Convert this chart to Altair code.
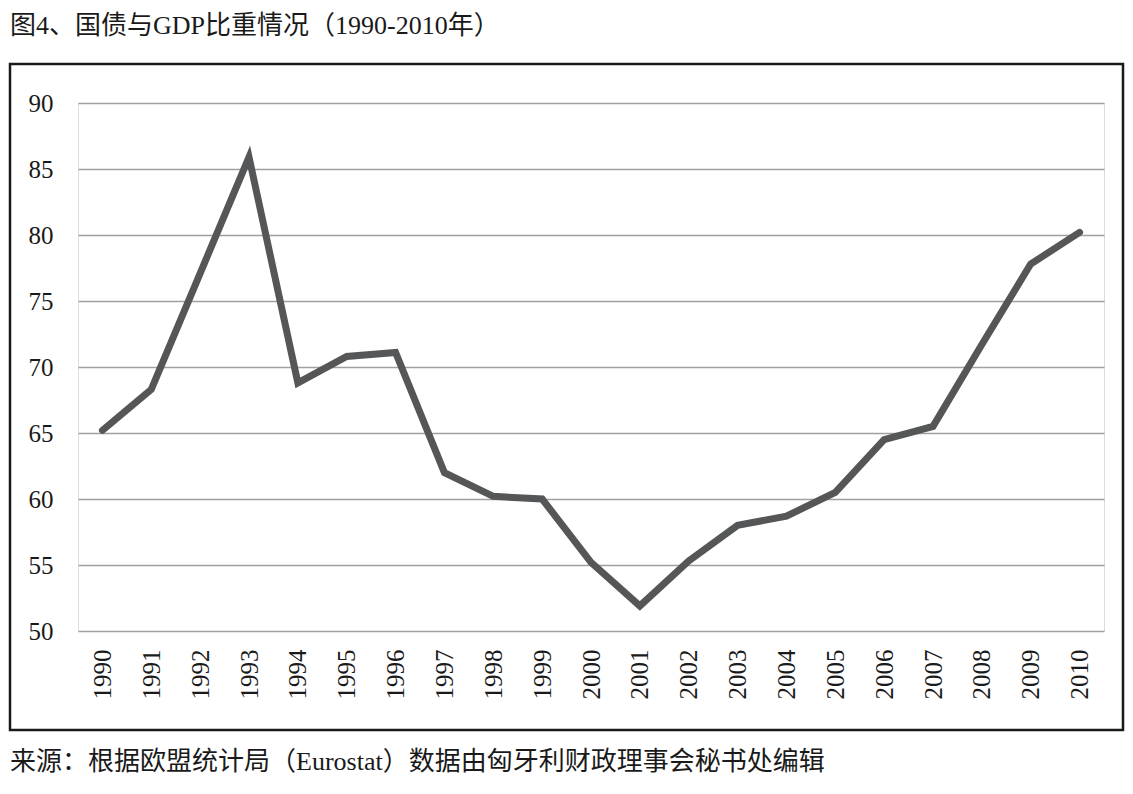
import altair as alt
import pandas as pd

years = [str(y) for y in range(1990, 2011)]
debt = [65.2, 68.3, 77.1, 85.9, 68.8, 70.8, 71.1, 62.0, 60.2, 60.0, 55.2,
        51.9, 55.3, 58.0, 58.7, 60.5, 64.5, 65.5, 71.7, 77.8, 80.2]
y_ticks = [50, 55, 60, 65, 70, 75, 80, 85, 90]
title_text = "图4、国债与GDP比重情况（1990-2010年）"
source_text = "来源：根据欧盟统计局（Eurostat）数据由匈牙利财政理事会秘书处编辑"

df = pd.DataFrame({"year": years, "debt": debt})

FONT = "Liberation Serif, Noto Sans CJK SC"
W, H = 1026, 528

line = alt.Chart(df).mark_line(color="#555657", strokeWidth=7, strokeCap="round").encode(
    x=alt.X("year:O", sort=years, title=None,
            scale=alt.Scale(type="point", padding=0.5),
            axis=alt.Axis(labelAngle=-90, labelFontSize=25, labelFont=FONT, labelColor="#1a1a1a",
                          labelPadding=18, ticks=False, domain=False, grid=False)),
    y=alt.Y("debt:Q", title=None,
            scale=alt.Scale(domain=[50, 90], nice=False, zero=False),
            axis=alt.Axis(values=y_ticks, labelFontSize=25, labelFont=FONT, labelColor="#1a1a1a",
                          labelPadding=25, ticks=False, domain=False, grid=True,
                          gridColor="#a0a0a0", gridWidth=1.5)),
)

box = alt.Chart(alt.Data(values=[{}])).mark_rect(
    fillOpacity=0, stroke="#1a1a1a", strokeWidth=2.5
).encode(
    x=alt.value(-68), x2=alt.value(1045), y=alt.value(-39), y2=alt.value(627)
)

title = alt.Chart(alt.Data(values=[{}])).mark_text(
    align="left", baseline="middle", fontSize=26, font=FONT, color="#1a1a1a"
).encode(text=alt.value(title_text), x=alt.value(-68), y=alt.value(-77))

source = alt.Chart(alt.Data(values=[{}])).mark_text(
    align="left", baseline="middle", fontSize=26, font=FONT, color="#1a1a1a"
).encode(text=alt.value(source_text), x=alt.value(-68), y=alt.value(659))

chart = alt.layer(box, line, title, source).properties(
    width=W, height=H,
    padding={"left": 70, "top": 95, "right": 21, "bottom": 155},
    autosize=alt.AutoSizeParams(type="none"),
).configure_view(stroke=None).configure(background="white")

chart.save("out.html", embed_options={"renderer": "svg", "actions": False})
